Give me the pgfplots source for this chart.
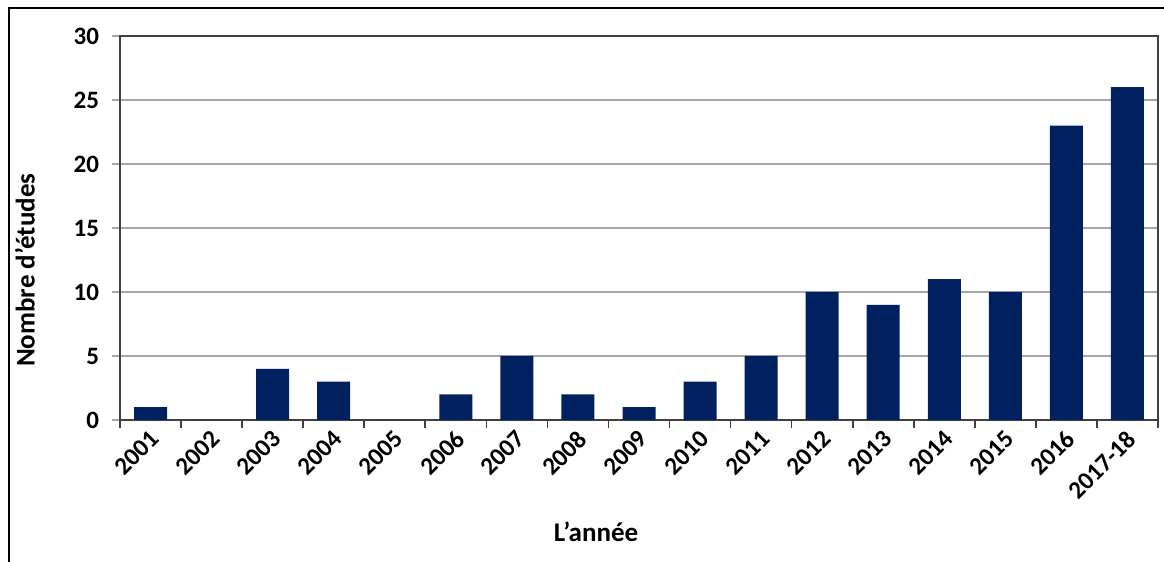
\documentclass[border=0pt]{standalone}
\usepackage{fontspec}
\setmainfont{Carlito}
\usepackage{pgfplots}
\pgfplotsset{compat=1.18}
\definecolor{barnavy}{HTML}{002060}
\definecolor{gridgray}{HTML}{A6A6A6}
\definecolor{axisgray}{HTML}{404040}
\begin{document}
\begin{tikzpicture}
\path[use as bounding box] (0,0) rectangle (582pt,281pt);
% outer frame
\draw[line width=1pt] (4.5pt,0) -- (4.5pt,277pt) -- (582pt,277pt);
\begin{axis}[
  at={(60pt,71pt)}, anchor=south west,
  scale only axis, width=519pt, height=192pt,
  ybar, bar width=16.5pt,
  xmin=-0.5, xmax=16.5, ymin=0, ymax=30,
  ytick={0,5,...,30},
  xtick={0,...,16},
  xticklabels={2001,2002,2003,2004,2005,2006,2007,2008,2009,2010,2011,2012,2013,2014,2015,2016,2017-18},
  minor xtick={-0.5,0.5,...,16.5},
  major x tick style={draw=none},
  minor x tick style={axisgray, line width=0.8pt},
  minor tick length=4pt,
  major tick length=4pt,
  tick align=outside,
  y tick style={gridgray, line width=0.8pt},
  xtick pos=bottom, ytick pos=left,
  ymajorgrids, grid style={gridgray, line width=0.7pt},
  axis line style={axisgray, line width=0.9pt},
  /pgf/number format/assume math mode=true,
  tick label style={font=\bfseries\fontsize{12.5}{13}\selectfont},
  x tick label style={rotate=45, anchor=east, yshift=-4pt, xshift=2.5pt},
  y tick label style={xshift=-3pt},
  xlabel={L’année}, ylabel={Nombre d’études},
  label style={font=\bfseries\fontsize{13.5}{14}\selectfont},
  xlabel style={at={(rel axis cs:0.4586,-0.292)}, anchor=center},
  ylabel style={at={(rel axis cs:-0.0915,0.39)}, anchor=center, rotate=0},
]
\addplot[fill=barnavy, draw=none] coordinates {
  (0,1) (1,0) (2,4) (3,3) (4,0) (5,2) (6,5) (7,2) (8,1)
  (9,3) (10,5) (11,10) (12,9) (13,11) (14,10) (15,23) (16,26)
};
\end{axis}
\end{tikzpicture}
\end{document}
